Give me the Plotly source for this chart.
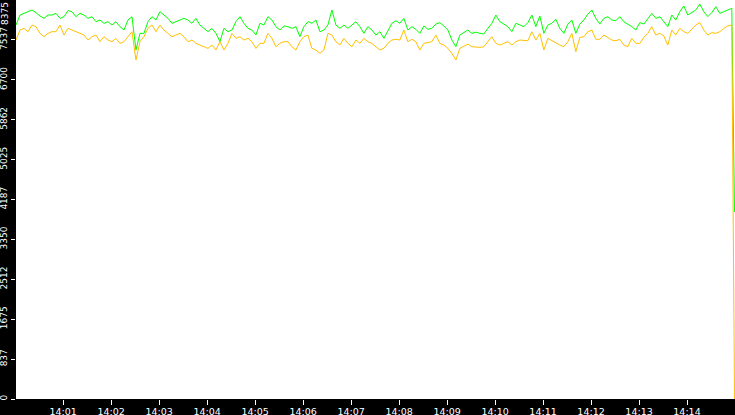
import pandas as pd
import plotly.graph_objects as go

# samples every 5 s starting 14:00:01
green_vals = [
    7850, 8060, 8095, 8130, 8165, 8109, 8039, 7990, 8060, 8060, 8095, 7990, 8025, 8151, 8130, 8025,
    8095, 8060, 7990, 8025, 7920, 7955, 7885, 7920, 7850, 7920, 7815, 7745, 7955, 8025, 7325, 7675,
    7675, 7920, 8025, 7955, 8130, 8060, 7990, 7885, 7920, 7955, 7990, 7955, 7885, 7990, 7850, 7780,
    7710, 7780, 7675, 7500, 7780, 7710, 7745, 7920, 8025, 7885, 7780, 7745, 7640, 7885, 7850,
    8025, 7955, 7815, 7745, 7830, 7815, 7780, 7815, 7605, 7815, 7920, 7885, 7955, 7710, 7745, 7850,
    8165, 7850, 7780, 7850, 7780, 7850, 7920, 7815, 7675, 7815, 7745, 7640, 7710, 7570, 7745,
    7885, 7940, 7885, 7990, 7745, 7815, 7760, 7675, 7830, 7760, 7780, 7870, 7900, 7830, 7745, 7535,
    7395, 7640, 7690, 7745, 7675, 7700, 7675, 7660, 7780, 7885, 8060, 7920, 7870, 7815, 7710,
    7885, 7850, 7815, 7900, 8060, 7815, 8040, 7675, 7850, 7885, 7970, 7780, 7675, 7870, 7955, 7675,
    7870, 7955, 8080, 8165, 7990, 7870, 7990, 8025, 7955, 7940, 8025, 7920, 7870, 7815, 7745,
    7900, 7870, 7990, 8095, 7990, 8025, 7920, 7815, 8060, 7955, 8130, 8250, 8060, 8109, 8165, 8290,
    8130, 8025, 8109, 8235, 8095, 8130, 8165, 8200,
    3925,
]
orange_vals = [
    7535, 7745, 7780, 7710, 7850, 7815, 7675, 7605, 7675, 7710, 7710, 7850, 7640, 7780, 7745, 7710,
    7675, 7640, 7535, 7605, 7640, 7500, 7605, 7535, 7500, 7570, 7465, 7500, 7605, 7710, 7115, 7500,
    7605, 7780, 7850, 7710, 7850, 7745, 7675, 7605, 7640, 7675, 7605, 7500, 7535, 7465, 7430, 7395,
    7360, 7430, 7325, 7500, 7325, 7465, 7675, 7570, 7605, 7535, 7570, 7500, 7360, 7465, 7465,
    7675, 7570, 7395, 7465, 7500, 7500, 7395, 7325, 7500, 7605, 7640, 7360, 7325, 7255, 7325, 7675,
    7640, 7500, 7430, 7570, 7465, 7395, 7535, 7465, 7570, 7500, 7465, 7395, 7325, 7360, 7465,
    7535, 7550, 7535, 7745, 7500, 7550, 7500, 7325, 7465, 7480, 7500, 7640, 7465, 7430, 7360, 7255,
    7115, 7360, 7410, 7450, 7395, 7380, 7380, 7395, 7500, 7605, 7465, 7430, 7465, 7500, 7430,
    7500, 7535, 7535, 7520, 7710, 7535, 7675, 7325, 7570, 7520, 7480, 7430, 7395, 7500, 7675, 7290,
    7590, 7605, 7710, 7745, 7550, 7550, 7640, 7590, 7535, 7520, 7550, 7430, 7395, 7570, 7465,
    7465, 7590, 7675, 7815, 7640, 7675, 7620, 7430, 7745, 7640, 7780, 7710, 7675, 7760, 7850, 7900,
    7745, 7640, 7690, 7675, 7710, 7780, 7830, 7850,
    0,
]

y_ticks = [0, 837, 1675, 2512, 3350, 4187, 5025, 5862, 6700, 7537]
y_top = 8375

times = list(pd.date_range("2024-01-01 14:00:01", periods=180, freq="5s"))
times.append(pd.Timestamp("2024-01-01 14:14:59.4"))

fnt = dict(family="DejaVu Sans", size=9, color="white")
xfnt = dict(family="DejaVu Sans", size=9.5, color="white")

fig = go.Figure()
fig.add_scatter(x=times, y=green_vals, mode="lines", line=dict(color="#00ff00", width=1))
fig.add_scatter(x=times, y=orange_vals, mode="lines", line=dict(color="#ffc000", width=1))

fig.update_layout(
    template="none",
    width=735, height=415,
    margin=dict(l=16, r=0, t=0, b=16),
    paper_bgcolor="black",
    plot_bgcolor="white",
    showlegend=False,
    font=fnt,
)
fig.update_xaxes(
    range=["2024-01-01 14:00:01", "2024-01-01 14:15:00"],
    tickformat="%H:%M", dtick=60000, tick0="2024-01-01 14:01:00",
    ticks="outside", ticklen=5, tickcolor="white", tickwidth=1,
    showgrid=False, zeroline=False, showline=False, automargin=False,
    tickfont=xfnt, ticklabelstandoff=-1,
)
fig.update_yaxes(
    range=[0, y_top],
    tickvals=y_ticks, ticktext=[str(v) for v in y_ticks],
    tickangle=-90, ticks="outside", ticklen=4, tickcolor="white", tickwidth=1,
    showgrid=False, zeroline=False, showline=False, automargin=False,
    tickfont=fnt,
)
# top label sits inside the figure, pushed down
fig.add_annotation(
    x=0, xref="paper", xanchor="right", xshift=-4,
    y=y_top, yref="y", yanchor="middle", yshift=-14,
    text=str(y_top), textangle=-90, showarrow=False, font=fnt,
)

# page body has a default 8px margin; drop it so the figure fills the window
fig.write_html("out.html", config={"displayModeBar": False},
               post_script="document.body.style.margin='0';")
